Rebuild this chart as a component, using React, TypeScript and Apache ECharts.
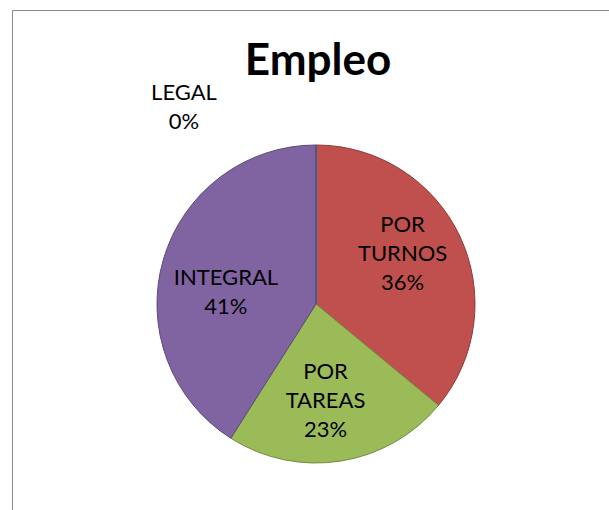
import React, { useEffect, useRef } from "react";
import * as echarts from "echarts";

const titleText = "Empleo";
const categories = ["POR TURNOS", "POR TAREAS", "INTEGRAL", "LEGAL"];
const values = [36, 23, 41, 0];
const fillColors = ["#C0504D", "#9BBB59", "#8064A2", "#4F81BD"];
const edgeColors = ["#8E3B39", "#71893F", "#5E4A78", "#3A5F8B"];

const W = 609;
const H = 510;
const PIE_CX = 316;
const PIE_CY = 304;
const PIE_R = 159;
const FONT = "Lato, 'Open Sans', sans-serif";
// small label nudges (px) to mimic the original placement
const labelNudge = [
  [-3, -9],
  [-6, -2],
  [5, 15],
];

export default function App() {
  const ref = useRef<HTMLDivElement>(null);

  useEffect(() => {
    if (!ref.current) return;
    const chart = echarts.init(ref.current, null, { renderer: "svg" });
    const data = categories.map((name, i) => ({
      name,
      value: values[i],
      itemStyle: { color: fillColors[i], borderColor: edgeColors[i], borderWidth: 1 },
      label: i === 3 ? { position: "outside" } : { position: "inside" },
      labelLine: { show: false },
    }));
    chart.setOption({
      animation: false,
      backgroundColor: "#ffffff",
      title: {
        text: titleText,
        left: 313,
        textAlign: "center",
        top: 31,
        textStyle: { fontFamily: FONT, fontWeight: "bold", fontSize: 44, color: "#000" },
      },
      graphic: [
        {
          type: "rect",
          shape: { x: 12.5, y: 10.5, width: 800, height: 800 },
          style: { fill: "none", stroke: "#888888", lineWidth: 1 },
          silent: true,
        },
      ],
      series: [
        {
          type: "pie",
          center: [PIE_CX, PIE_CY],
          radius: PIE_R,
          startAngle: 90,
          clockwise: true,
          avoidLabelOverlap: false,
          data,
          label: {
            show: true,
            color: "#000",
            fontFamily: FONT,
            fontSize: 22,
            lineHeight: 29,
            align: "center",
            formatter: (p: any) =>
              p.name.replace(" ", "\n") + "\n" + Math.round(p.percent) + "%",
          },
          labelLine: { show: false },
          labelLayout: (p: any) => {
            if (p.dataIndex === 3) {
              return { x: 184, y: 106, align: "center", verticalAlign: "middle" };
            }
            const r = p.labelRect;
            const lx = r.x + r.width / 2;
            const ly = r.y + r.height / 2;
            const n = labelNudge[p.dataIndex] || [0, 0];
            return { dx: (lx - PIE_CX) * 0.2 + n[0], dy: (ly - PIE_CY) * 0.2 + n[1] };
          },
          emphasis: { disabled: true },
        },
      ],
    });
    return () => chart.dispose();
  }, []);

  return (
    <div
      ref={ref}
      style={{ position: "fixed", left: 0, top: 0, width: W, height: H }}
    />
  );
}
